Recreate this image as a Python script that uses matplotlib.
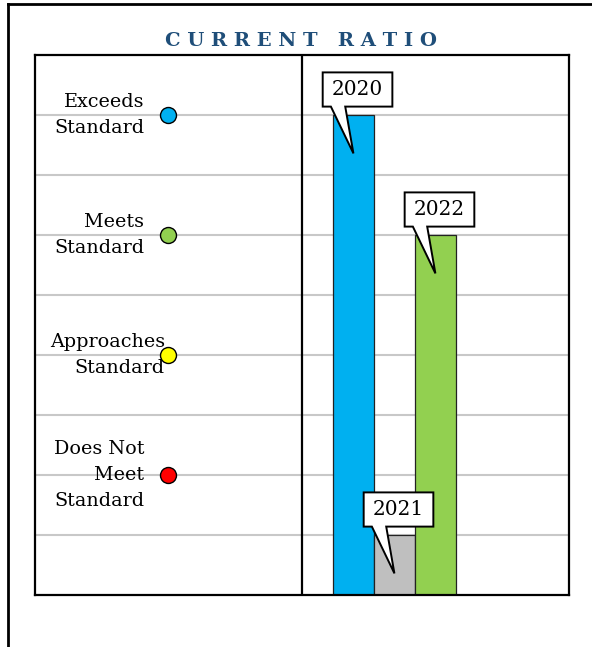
import numpy as np
import matplotlib.pyplot as plt
from matplotlib.patches import Polygon
from matplotlib.lines import Line2D

# data
years = ['2020', '2021', '2022']
values = [4.0, 0.5, 3.0]
bar_colors = ['#00B0F0', '#BFBFBF', '#92D050']

levels = ['Exceeds\nStandard', 'Meets\nStandard', 'Approaches\nStandard', 'Does Not\nMeet\nStandard']
level_values = [4, 3, 2, 1]
level_colors = ['#00B0F0', '#92D050', '#FFFF00', '#FF0000']
label_right = [-5.1, -5.1, -4.6, -5.1]

plt.rcParams['font.family'] = ['DejaVu Serif']

fig = plt.figure(figsize=(5.92, 6.47), dpi=100)
ax = fig.add_axes([35/592, 1 - 595/647, 534/592, 540/647])

x = np.arange(len(years))
ax.set_xlim(-7.77, 5.26)
ax.set_ylim(0, 4.5)

for g in np.arange(0.5, 4.5, 0.5):
    ax.axhline(g, color='#C8C8C8', lw=1.5, zorder=0)

ax.bar(x, values, width=1.0, color=bar_colors, edgecolor='#222222', lw=0.9, zorder=2)
ax.axvline(-1.256, color='black', lw=1.6, zorder=3)

# level markers and labels
for lab, v, c, xr in zip(levels, level_values, level_colors, label_right):
    ax.plot(-4.52, v, 'o', ms=11.5, mfc=c, mec='black', mew=1, zorder=4)
    ax.text(xr, v, lab, ha='right', va='center', multialignment='right',
            fontsize=13.8, linespacing=1.6, zorder=5)

# callouts
bw, bh = 1.7, 0.285
for xi, v, yr in zip(x, values, years):
    cx = xi + 0.1
    b = v + 0.07
    t = b + bh
    tip = v - 0.32
    pts = [(cx - bw/2, b), (xi - 0.55, b), (xi, tip), (xi - 0.2, b),
           (cx + bw/2, b), (cx + bw/2, t), (cx - bw/2, t)]
    ax.add_patch(Polygon(pts, closed=True, fc='white', ec='black', lw=1.4, zorder=6))
    ax.text(cx, (b + t) / 2, yr, ha='center', va='center', fontsize=14.5, zorder=7)

ax.set_xticks([])
ax.set_yticks([])
for s in ax.spines.values():
    s.set_linewidth(1.6)

fig.text(301/592, 1 - 41/647, 'C U R R E N T   R A T I O', ha='center', va='center',
         fontsize=14, fontweight='bold', color='#1F4E79')

# outer frame
fig.add_artist(Line2D([8/592, 1], [1 - 4/647, 1 - 4/647], color='black', lw=2, transform=fig.transFigure))
fig.add_artist(Line2D([8/592, 8/592], [0, 1 - 4/647], color='black', lw=2, transform=fig.transFigure))

fig.savefig('out.png', dpi=100)
